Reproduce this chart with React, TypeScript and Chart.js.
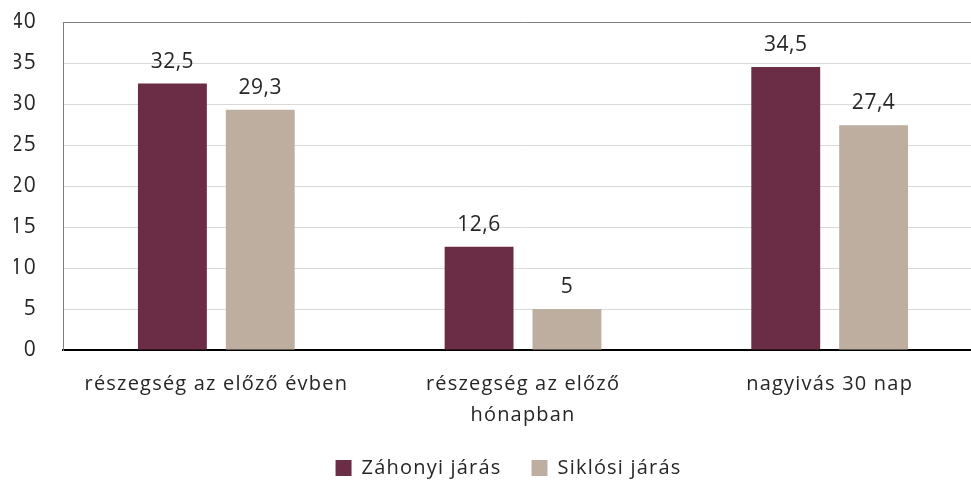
import React, { useEffect, useRef } from "react";
import { Chart, registerables } from "chart.js";

Chart.register(...registerables);

const categories: (string | string[])[] = [
  "részegség az előző évben",
  ["részegség az előző", "hónapban"],
  "nagyivás 30 nap",
];
const seriesNames = ["Záhonyi járás", "Siklósi járás"];
const zahonyi = [32.5, 12.6, 34.5];
const siklosi = [29.3, 5, 27.4];
const yTicks = { min: 0, max: 40, step: 5 };
const colors = ["#6B2D45", "#BEAEA0"];

const FONT = "'Open Sans', sans-serif";
const SPACING = "1.2px";

const spacingPlugin = {
  id: "spacing",
  beforeUpdate(chart: any) {
    (chart.ctx as any).letterSpacing = SPACING;
  },
  beforeLayout(chart: any) {
    (chart.ctx as any).letterSpacing = SPACING;
  },
  beforeDraw(chart: any) {
    (chart.ctx as any).letterSpacing = SPACING;
  },
};

const valueLabels = {
  id: "valueLabels",
  afterDatasetsDraw(chart: any) {
    const ctx = chart.ctx;
    ctx.save();
    (ctx as any).letterSpacing = "0.5px";
    ctx.font = `21px ${FONT}`;
    ctx.fillStyle = "#262626";
    ctx.textAlign = "center";
    ctx.textBaseline = "alphabetic";
    chart.data.datasets.forEach((ds: any, i: number) => {
      const meta = chart.getDatasetMeta(i);
      meta.data.forEach((el: any, j: number) => {
        const v = ds.data[j];
        ctx.fillText(String(v).replace(".", ","), el.x, el.y - 16);
      });
    });
    ctx.restore();
  },
};

export default function App() {
  const ref = useRef<HTMLCanvasElement>(null);
  useEffect(() => {
    if (!ref.current) return;
    const chart = new Chart(ref.current, {
      type: "bar",
      data: {
        labels: categories,
        datasets: [
          { label: seriesNames[0], data: zahonyi, backgroundColor: colors[0], yAxisID: "y" },
          { label: seriesNames[1], data: siklosi, backgroundColor: colors[1], yAxisID: "y" },
        ],
      },
      options: {
        responsive: false,
        animation: false,
        layout: { padding: { left: 14, right: 31, top: 0, bottom: -3 } },
        datasets: {
          bar: { categoryPercentage: 0.573, barPercentage: 0.784 },
        } as any,
        scales: {
          x: {
            grid: { display: false, drawTicks: false },
            border: { color: "#000000", width: 2 },
            ticks: {
              color: "#262626",
              font: { family: FONT, size: 20, lineHeight: 1.55 },
              padding: 19,
              maxRotation: 0,
            },
            afterFit(scale: any) {
              scale.height -= 22;
            },
          },
          y: {
            min: yTicks.min,
            max: yTicks.max,
            grid: {
              drawTicks: false,
              color: (c: any) => (c.tick && c.tick.value === 40 ? "#7F7F7F" : "#D9D9D9"),
            },
            border: { color: "#7F7F7F", width: 1 },
            ticks: {
              stepSize: yTicks.step,
              color: "#262626",
              font: { family: FONT, size: 21, lineHeight: "0px" } as any,
              padding: 26,
            },
            afterFit(scale: any) {
              scale.width = 49;
            },
          },
          yRight: {
            type: "linear",
            position: "right",
            display: true,
            grid: { display: false, drawTicks: false },
            border: { display: false },
            ticks: { display: false },
            afterFit(scale: any) {
              scale.width = 20;
            },
          },
        },
        plugins: {
          legend: {
            position: "bottom",
            labels: {
              boxWidth: 16,
              boxHeight: 16,
              color: "#262626",
              font: { family: FONT, size: 20 },
              padding: 30,
            },
          },
          tooltip: { enabled: false },
        },
      },
      plugins: [spacingPlugin, valueLabels],
    });
    return () => chart.destroy();
  }, []);
  return (
    <div
      style={{
        position: "absolute",
        left: 0,
        top: 0,
        width: 971,
        height: 485,
        overflow: "hidden",
        background: "#fff",
      }}
    >
      <canvas
        ref={ref}
        width={1034}
        height={489}
        style={{ display: "block", marginTop: -4 }}
      />
    </div>
  );
}
